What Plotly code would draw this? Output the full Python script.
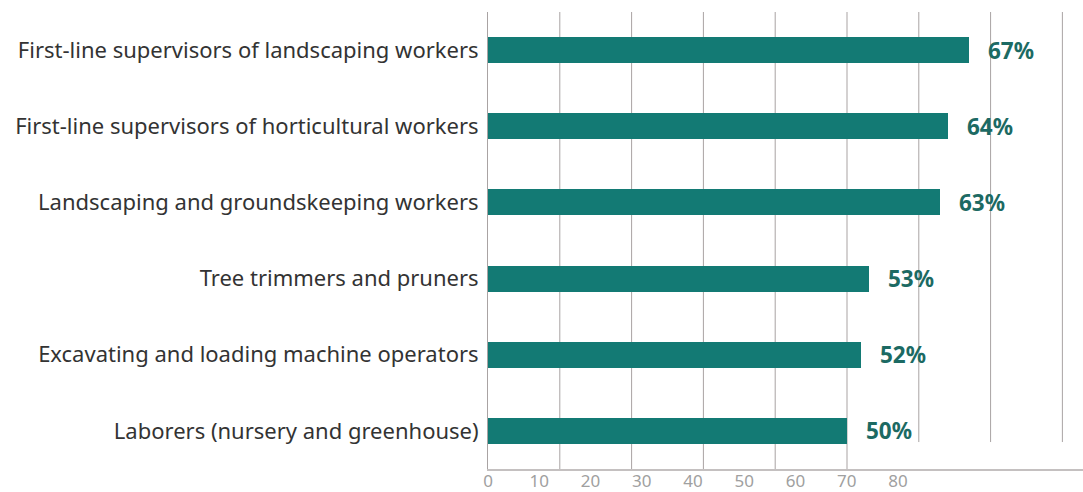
import plotly.graph_objects as go

categories = [
    "First-line supervisors of landscaping workers",
    "First-line supervisors of horticultural workers",
    "Landscaping and groundskeeping workers",
    "Tree trimmers and pruners",
    "Excavating and loading machine operators",
    "Laborers (nursery and greenhouse)",
]
values = [67, 64, 63, 53, 52, 50]
grid_values = [10, 20, 30, 40, 50, 60, 70, 80]
tick_labels = [0, 10, 20, 30, 40, 50, 60, 70, 80]

BAR_COLOR = "#137a74"
LABEL_COLOR = "#1c6a63"
GRID_COLOR = "#a9a3a3"
FONT = "'Noto Sans', sans-serif"

fig = go.Figure()
fig.add_trace(go.Bar(
    y=categories, x=values, orientation="h",
    marker=dict(color=BAR_COLOR, line=dict(width=0)),
    width=0.34, xaxis="x", yaxis="y", hoverinfo="skip",
))
# empty trace to activate the label axis
fig.add_trace(go.Scatter(x=[], y=[], xaxis="x2", yaxis="y", showlegend=False))

for c, v in zip(categories, values):
    fig.add_annotation(
        x=v, y=c, xref="x", yref="y", text=f"<b>{v}%</b>",
        showarrow=False, xanchor="left", xshift=17,
        font=dict(family=FONT, size=22.5, color=LABEL_COLOR),
    )

for g in grid_values:
    fig.add_shape(
        type="line", xref="x", yref="paper", x0=g, x1=g,
        y0=0 if g <= 50 else 0.059, y1=1,
        line=dict(color=GRID_COLOR, width=1), layer="below",
    )

fig.update_layout(
    width=1083, height=492,
    margin=dict(l=488, r=0, t=12, b=21),
    paper_bgcolor="white", plot_bgcolor="white",
    showlegend=False, bargap=0,
    font=dict(family=FONT),
    xaxis=dict(
        range=[0, 82.87], showgrid=False, zeroline=False,
        showticklabels=False, ticks="",
        showline=True, linecolor="#c4c0c0", linewidth=1.5,
    ),
    xaxis2=dict(
        overlaying="x", side="bottom", range=[0, 116.1],
        tickvals=tick_labels, ticktext=[str(t) for t in tick_labels],
        showgrid=False, zeroline=False, showline=False, ticks="",
        tickfont=dict(family=FONT, size=17, color="#a0a0a0"),
    ),
    yaxis=dict(
        autorange="reversed", showgrid=False, zeroline=False,
        showline=True, linecolor=GRID_COLOR, linewidth=1,
        ticks="", ticklabelstandoff=4,
        tickfont=dict(family=FONT, size=22, color="#333333"),
    ),
)

fig.write_html("out.html")
